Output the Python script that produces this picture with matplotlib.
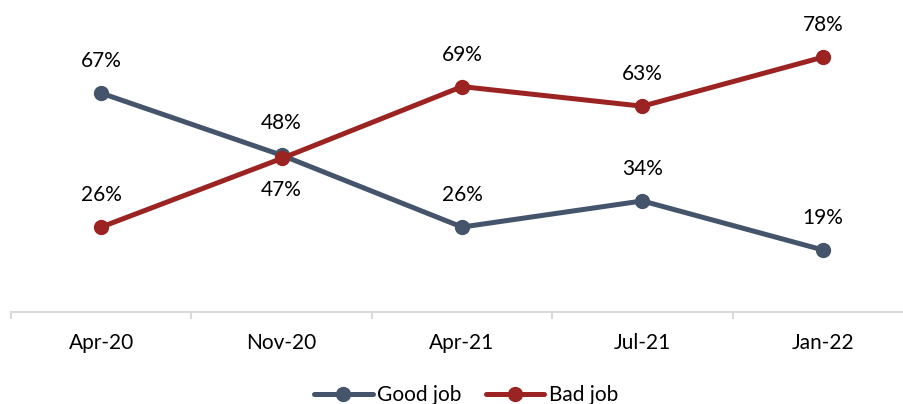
import matplotlib
matplotlib.use('Agg')
import matplotlib.pyplot as plt

plt.rcParams['font.family'] = ['Lato', 'DejaVu Sans']

months = ['Apr-20', 'Nov-20', 'Apr-21', 'Jul-21', 'Jan-22']
good_job = [67, 48, 26, 34, 19]
bad_job = [26, 47, 69, 63, 78]
# label placement: 1 = above the point, -1 = below
good_pos = [1, 1, 1, 1, 1]
bad_pos = [1, -1, 1, 1, 1]

good_color = '#44546A'
bad_color = '#9B2423'

fig = plt.figure(figsize=(9.04, 4.04), dpi=100)
ax = fig.add_axes([11 / 904, (404 - 312) / 404, 902 / 904, (312 - 18) / 404])

x = list(range(len(months)))
ax.plot(x, good_job, color=good_color, lw=3.6, marker='o', ms=10, label='Good job', solid_capstyle='round')
ax.plot(x, bad_job, color=bad_color, lw=3.6, marker='o', ms=10, label='Bad job', solid_capstyle='round')

for xi, v, p in zip(x, good_job, good_pos):
    ax.annotate(f'{v}%', (xi, v), xytext=(0, 23 * p), textcoords='offset points',
                ha='center', va='center', fontsize=15, color='#000000')
for xi, v, p in zip(x, bad_job, bad_pos):
    ax.annotate(f'{v}%', (xi, v), xytext=(0, 23 * p), textcoords='offset points',
                ha='center', va='center', fontsize=15, color='#000000')

ax.set_xlim(-0.5, 4.5)
ax.set_ylim(0, 90)
ax.set_yticks([])
for s in ['top', 'right', 'left']:
    ax.spines[s].set_visible(False)
ax.spines['bottom'].set_color('#D9D9D9')
ax.spines['bottom'].set_linewidth(1.5)

ax.set_xticks(x)
ax.set_xticklabels(months, fontsize=15)
ax.tick_params(axis='x', which='major', length=0, pad=15)
ax.set_xticks([i - 0.5 for i in range(len(months) + 1)], minor=True)
ax.tick_params(axis='x', which='minor', length=5, width=1.5, color='#D9D9D9')

ax.legend(loc='center', bbox_to_anchor=(466 / 904, 9 / 404), bbox_transform=fig.transFigure,
          ncol=2, frameon=False, fontsize=15, handlelength=2.8, columnspacing=1.2, handletextpad=0.2)

fig.savefig('out.png', dpi=100)
